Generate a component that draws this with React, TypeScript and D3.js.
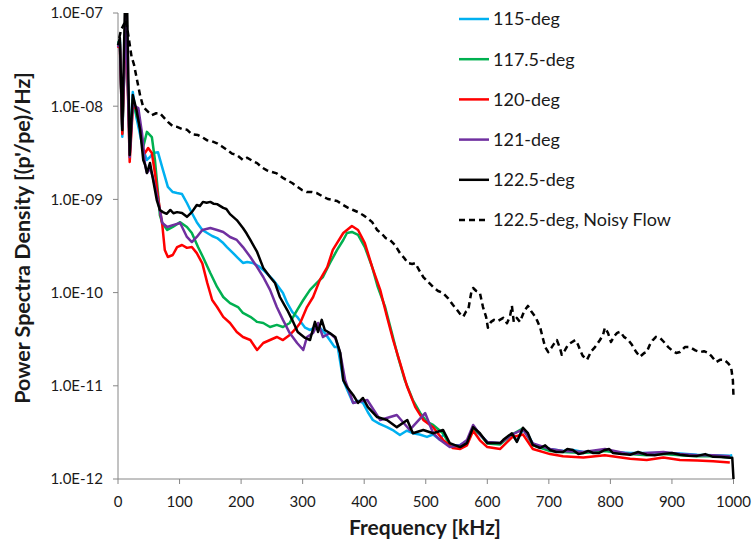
import React from "react";
import * as d3 from "d3";

type Pt = [number, number];

const xTickValues = [0, 100, 200, 300, 400, 500, 600, 700, 800, 900, 1000];
const yTickValues = [1e-12, 1e-11, 1e-10, 1e-9, 1e-8, 1e-7];
const yTickLabels = ["1.0E-12", "1.0E-11", "1.0E-10", "1.0E-09", "1.0E-08", "1.0E-07"];

const seriesNames = ["115-deg", "117.5-deg", "120-deg", "121-deg", "122.5-deg", "122.5-deg, Noisy Flow"];
const seriesColors = ["#00B0F0", "#00B050", "#FF0000", "#7030A0", "#000000", "#000000"];

const deg115: Pt[] = [
  [0, 4.65e-8], [3, 5.1e-8], [7, 4.7e-9], [13, 9.3e-8], [19, 3.8e-9], [24, 1.42e-8], [30, 7.5e-9], [36, 4.9e-9],
  [41, 3.4e-9], [47, 2.65e-9], [52, 2.85e-9], [57, 3.15e-9], [65, 3.2e-9], [73, 2.07e-9], [81, 1.36e-9], [89, 1.2e-9],
  [96, 1.17e-9], [104, 1.14e-9], [112, 9.15e-10], [120, 7.15e-10], [128, 5.7e-10], [137, 4.7e-10], [145, 4.36e-10],
  [153, 4.05e-10], [161, 3.85e-10], [171, 3.4e-10], [177, 3.08e-10], [187, 2.65e-10], [195, 2.35e-10], [203, 2.08e-10],
  [210, 2.13e-10], [219, 2.08e-10], [228, 1.93e-10], [236, 1.75e-10], [243, 1.58e-10], [252, 1.37e-10], [260, 1.17e-10],
  [268, 9.9e-11], [275, 7.7e-11], [283, 6.2e-11], [291, 5.5e-11], [297, 4.85e-11], [304, 4.2e-11], [312, 3.97e-11],
  [320, 4.27e-11], [328, 4.2e-11], [336, 3.68e-11], [344, 3.1e-11], [352, 2.6e-11], [357, 2.6e-11], [366, 1.15e-11],
  [374, 8.6e-12], [382, 6.55e-12], [390, 6.9e-12], [398, 6.55e-12], [406, 5.2e-12], [414, 4.3e-12], [425, 3.9e-12],
  [437, 3.6e-12], [448, 3.3e-12], [458, 2.96e-12], [469, 3.3e-12], [479, 3.1e-12], [490, 3.0e-12], [502, 2.83e-12],
  [512, 3.0e-12], [523, 2.63e-12], [530, 3.1e-12], [539, 2.3e-12], [556, 2.32e-12], [567, 2.55e-12], [577, 3.4e-12],
  [588, 3.0e-12], [600, 2.5e-12], [610, 2.45e-12], [621, 2.4e-12], [640, 3.0e-12], [648, 2.55e-12], [658, 3.4e-12],
  [666, 3.0e-12], [674, 2.4e-12], [686, 2.2e-12], [702, 2.1e-12], [723, 2.0e-12], [739, 2.05e-12], [756, 1.95e-12],
  [772, 1.95e-12], [791, 2.05e-12], [804, 1.95e-12], [832, 1.9e-12], [859, 1.9e-12], [886, 1.9e-12], [913, 1.88e-12],
  [941, 1.82e-12], [967, 1.8e-12], [994, 1.78e-12], [998, 1.8e-12],
];

const deg117: Pt[] = [
  [0, 4.77e-8], [3, 5.1e-8], [7, 5.15e-9], [13, 9.5e-8], [19, 3.39e-9], [24, 1.16e-8], [30, 8.0e-9], [36, 6.3e-9],
  [41, 3.65e-9], [47, 5.3e-9], [55, 4.67e-9], [60, 2.65e-9], [65, 1.17e-9], [68, 6.8e-10], [72, 5.58e-10], [80, 4.7e-10],
  [89, 5.06e-10], [101, 5.7e-10], [112, 5.06e-10], [120, 4.36e-10], [130, 3.08e-10], [138, 2.41e-10], [150, 1.62e-10],
  [161, 1.15e-10], [171, 8.97e-11], [182, 7.7e-11], [195, 7.0e-11], [203, 6.05e-11], [215, 5.5e-11], [226, 4.85e-11],
  [236, 4.72e-11], [247, 4.27e-11], [258, 4.5e-11], [268, 4.27e-11], [279, 4.72e-11], [291, 6.5e-11], [301, 8.33e-11],
  [312, 1.07e-10], [323, 1.27e-10], [333, 1.47e-10], [344, 2.06e-10], [356, 2.87e-10], [366, 3.67e-10], [372, 4.36e-10],
  [380, 4.47e-10], [390, 4.15e-10], [401, 3.08e-10], [413, 1.88e-10], [422, 1.15e-10], [434, 7.0e-11], [445, 3.68e-11],
  [455, 2.04e-11], [466, 1.15e-11], [479, 7.04e-12], [491, 5.11e-12], [502, 4.09e-12], [512, 3.8e-12], [528, 3.1e-12],
  [539, 2.32e-12], [556, 2.2e-12], [567, 2.5e-12], [577, 3.5e-12], [588, 3.0e-12], [600, 2.4e-12], [621, 2.35e-12],
  [640, 3.0e-12], [658, 3.5e-12], [674, 2.3e-12], [702, 2.0e-12], [723, 1.95e-12], [756, 1.9e-12], [791, 2.0e-12],
  [832, 1.85e-12], [859, 1.8e-12], [886, 1.85e-12], [913, 1.8e-12], [941, 1.75e-12], [967, 1.75e-12], [994, 1.7e-12],
];

const deg120: Pt[] = [
  [0, 4.2e-8], [3, 4.65e-8], [7, 5.03e-9], [13, 9.3e-8], [19, 2.52e-9], [24, 9.57e-9], [30, 9.57e-9], [36, 5.85e-9],
  [41, 3.39e-9], [44, 3.15e-9], [49, 3.56e-9], [55, 3.15e-9], [60, 1.92e-9], [65, 1.06e-9], [72, 5.3e-10], [76, 2.87e-10],
  [81, 2.41e-10], [89, 2.53e-10], [96, 3.08e-10], [104, 3.24e-10], [112, 3.02e-10], [120, 3.08e-10], [128, 2.65e-10],
  [137, 2.06e-10], [145, 1.27e-10], [153, 8.33e-11], [161, 7.0e-11], [171, 5.5e-11], [182, 4.72e-11], [193, 3.78e-11],
  [203, 3.34e-11], [215, 3.1e-11], [226, 2.42e-11], [236, 2.88e-11], [247, 3.1e-11], [258, 3.34e-11], [268, 3.1e-11],
  [279, 3.51e-11], [291, 4.27e-11], [296, 4.72e-11], [307, 7.0e-11], [317, 8.97e-11], [328, 1.37e-10], [340, 1.88e-10],
  [349, 2.87e-10], [366, 4.36e-10], [380, 5.19e-10], [390, 4.7e-10], [401, 3.4e-10], [413, 1.88e-10], [426, 1.07e-10],
  [437, 5.5e-11], [447, 3.1e-11], [458, 1.78e-11], [470, 9.7e-12], [483, 5.9e-12], [496, 4.3e-12], [512, 3.6e-12],
  [528, 2.63e-12], [544, 2.15e-12], [556, 2.1e-12], [567, 2.3e-12], [577, 3.3e-12], [588, 2.6e-12], [600, 2.2e-12],
  [621, 2.1e-12], [640, 2.8e-12], [658, 3.0e-12], [674, 2.1e-12], [702, 1.85e-12], [723, 1.75e-12], [756, 1.7e-12],
  [791, 1.8e-12], [832, 1.65e-12], [859, 1.6e-12], [886, 1.7e-12], [913, 1.6e-12], [941, 1.58e-12], [967, 1.55e-12],
  [994, 1.5e-12],
];

const deg121: Pt[] = [
  [0, 4.3e-8], [3, 4.9e-8], [7, 5.85e-9], [13, 9.5e-8], [19, 2.85e-9], [24, 1.03e-8], [33, 9.57e-9], [39, 5.15e-9],
  [44, 2.35e-9], [47, 1.92e-9], [52, 2.17e-9], [57, 1.7e-9], [63, 1.12e-9], [68, 7.7e-10], [72, 5.58e-10], [80, 5.06e-10],
  [89, 5.3e-10], [101, 5.58e-10], [112, 3.95e-10], [120, 3.49e-10], [128, 3.95e-10], [137, 4.7e-10], [150, 4.94e-10],
  [161, 4.7e-10], [171, 4.47e-10], [182, 3.95e-10], [193, 3.67e-10], [203, 3.08e-10], [215, 2.41e-10], [226, 1.88e-10],
  [236, 1.47e-10], [247, 1.07e-10], [258, 7.0e-11], [268, 5.1e-11], [279, 3.68e-11], [291, 2.88e-11], [301, 2.42e-11],
  [307, 3.34e-11], [317, 3.68e-11], [325, 4.72e-11], [333, 3.34e-11], [344, 3.68e-11], [353, 3.26e-11], [361, 2.25e-11],
  [369, 1.15e-11], [382, 6.55e-12], [405, 7.04e-12], [426, 4.3e-12], [453, 4.86e-12], [474, 3.36e-12], [499, 5.1e-12],
  [512, 3.1e-12], [523, 2.63e-12], [539, 2.2e-12], [556, 2.3e-12], [567, 2.63e-12], [577, 3.8e-12], [588, 3.0e-12],
  [600, 2.5e-12], [621, 2.43e-12], [640, 3.0e-12], [658, 3.4e-12], [674, 2.4e-12], [702, 2.1e-12], [723, 2.0e-12],
  [756, 1.95e-12], [791, 2.1e-12], [832, 1.85e-12], [859, 1.9e-12], [886, 1.95e-12], [913, 1.85e-12], [941, 1.8e-12],
  [967, 1.8e-12], [994, 1.75e-12],
];

const deg122: Pt[] = [
  [0, 4.5e-8], [3, 5.4e-8], [7, 5.55e-9], [11, 1.0e-7], [15, 1.0e-7], [19, 3.0e-9], [24, 1.32e-8], [30, 9.1e-9],
  [36, 5.55e-9], [41, 2.65e-9], [44, 2.35e-9], [47, 1.92e-9], [52, 2.46e-9], [57, 1.62e-9], [63, 9.85e-10], [68, 7.7e-10],
  [73, 7.3e-10], [79, 7.0e-10], [85, 7.7e-10], [90, 7.1e-10], [96, 7.3e-10], [104, 7.15e-10], [112, 6.5e-10],
  [120, 7.3e-10], [128, 8.7e-10], [133, 8.5e-10], [138, 9.4e-10], [144, 9.2e-10], [150, 9.4e-10], [155, 9.0e-10],
  [161, 8.9e-10], [171, 8.1e-10], [176, 7.9e-10], [182, 6.95e-10], [193, 6.0e-10], [203, 4.94e-10], [209, 4.3e-10],
  [215, 3.67e-10], [226, 2.73e-10], [236, 1.84e-10], [247, 1.47e-10], [255, 1.27e-10], [263, 8.97e-11], [275, 6.5e-11],
  [283, 5.1e-11], [292, 3.78e-11], [304, 3.26e-11], [312, 3.1e-11], [320, 4.85e-11], [325, 3.78e-11], [331, 5.1e-11],
  [336, 3.97e-11], [344, 3.68e-11], [353, 3.34e-11], [361, 2.25e-11], [366, 1.15e-11], [372, 9.7e-12], [382, 7.96e-12],
  [390, 6.55e-12], [398, 7.4e-12], [406, 5.9e-12], [421, 4.62e-12], [437, 4.3e-12], [453, 3.6e-12], [470, 4.3e-12],
  [479, 3.1e-12], [496, 3.36e-12], [512, 3.1e-12], [528, 3.36e-12], [539, 2.43e-12], [556, 2.2e-12], [567, 2.43e-12],
  [577, 3.6e-12], [588, 3.1e-12], [600, 2.43e-12], [609, 2.43e-12], [621, 2.43e-12], [626, 2.63e-12], [640, 3.1e-12],
  [648, 2.5e-12], [658, 3.55e-12], [666, 3.1e-12], [674, 2.32e-12], [686, 2.15e-12], [694, 2.3e-12], [702, 2.05e-12],
  [712, 1.95e-12], [723, 1.95e-12], [730, 2.1e-12], [739, 2.05e-12], [748, 1.85e-12], [756, 1.9e-12], [764, 2.0e-12],
  [772, 1.9e-12], [781, 1.9e-12], [791, 2.05e-12], [798, 2.1e-12], [804, 1.9e-12], [818, 1.85e-12], [832, 1.82e-12],
  [845, 1.95e-12], [859, 1.82e-12], [872, 1.8e-12], [886, 1.86e-12], [900, 1.9e-12], [913, 1.82e-12], [927, 1.78e-12],
  [941, 1.77e-12], [954, 1.85e-12], [967, 1.73e-12], [980, 1.72e-12], [994, 1.69e-12], [998, 1.69e-12], [1000, 1.0e-12],
];

const deg122Noisy: Pt[] = [
  [2, 5.4e-8], [5, 6.6e-8], [13, 8.4e-8], [22, 3.4e-8], [26, 2.8e-8], [31, 1.9e-8], [36, 1.3e-8], [41, 9.8e-9],
  [49, 8.7e-9], [55, 8.0e-9], [62, 8.4e-9], [68, 8.4e-9], [75, 7.5e-9], [81, 6.8e-9], [89, 6.1e-9], [96, 6.0e-9],
  [104, 5.7e-9], [112, 5.6e-9], [120, 5.0e-9], [130, 4.9e-9], [138, 4.6e-9], [145, 4.3e-9], [153, 4.2e-9], [161, 4.0e-9],
  [169, 3.7e-9], [177, 3.4e-9], [185, 3.1e-9], [193, 3.0e-9], [203, 2.65e-9], [210, 2.8e-9], [218, 2.6e-9],
  [226, 2.45e-9], [234, 2.2e-9], [242, 2.05e-9], [250, 1.97e-9], [258, 1.9e-9], [268, 1.7e-9], [275, 1.6e-9],
  [283, 1.5e-9], [291, 1.37e-9], [299, 1.26e-9], [307, 1.2e-9], [315, 1.2e-9], [323, 1.17e-9], [331, 1.09e-9],
  [341, 1.01e-9], [349, 9.85e-10], [356, 9.6e-10], [366, 8.7e-10], [374, 8.1e-10], [382, 7.7e-10], [390, 7.3e-10],
  [398, 6.8e-10], [405, 6.3e-10], [413, 5.7e-10], [421, 4.7e-10], [429, 4.25e-10], [435, 3.85e-10], [442, 3.67e-10],
  [450, 3.24e-10], [458, 2.66e-10], [465, 2.35e-10], [471, 2.07e-10], [478, 2.03e-10], [483, 2.07e-10], [489, 1.75e-10],
  [496, 1.47e-10], [504, 1.3e-10], [512, 1.15e-10], [520, 1.04e-10], [528, 9.9e-11], [536, 8.75e-11], [544, 7.4e-11],
  [551, 6.5e-11], [557, 5.75e-11], [561, 5.5e-11], [565, 6.2e-11], [569, 6.5e-11], [574, 1.01e-10], [577, 1.12e-10],
  [582, 1.04e-10], [588, 9.9e-11], [593, 7.0e-11], [598, 5.5e-11], [601, 4.2e-11], [606, 4.85e-11], [611, 5.1e-11],
  [617, 4.95e-11], [626, 5.35e-11], [632, 4.7e-11], [637, 5.6e-11], [640, 7.2e-11], [643, 4.85e-11], [648, 5.35e-11],
  [653, 4.85e-11], [660, 6.35e-11], [666, 7.2e-11], [671, 6.35e-11], [678, 5.5e-11], [682, 4.85e-11], [686, 4.2e-11],
  [691, 3.1e-11], [694, 2.6e-11], [699, 2.3e-11], [704, 2.55e-11], [708, 2.8e-11], [713, 3.1e-11], [718, 2.55e-11],
  [721, 2.15e-11], [726, 2.4e-11], [731, 2.75e-11], [736, 2.9e-11], [743, 3.1e-11], [747, 2.8e-11], [751, 2.4e-11],
  [755, 2.1e-11], [762, 1.9e-11], [769, 2.35e-11], [775, 2.6e-11], [783, 3.1e-11], [788, 3.5e-11], [791, 4.2e-11],
  [796, 3.7e-11], [801, 2.95e-11], [806, 3.4e-11], [811, 3.7e-11], [816, 3.8e-11], [822, 3.35e-11], [829, 3.1e-11],
  [835, 2.75e-11], [842, 2.3e-11], [848, 2.05e-11], [855, 2.25e-11], [859, 2.3e-11], [864, 2.75e-11], [869, 3.1e-11],
  [874, 3.35e-11], [881, 3.25e-11], [887, 2.95e-11], [894, 2.6e-11], [900, 2.4e-11], [907, 2.25e-11], [913, 2.3e-11],
  [921, 2.6e-11], [929, 2.6e-11], [938, 2.4e-11], [946, 2.3e-11], [952, 2.35e-11], [959, 2.25e-11], [965, 2.05e-11],
  [972, 1.8e-11], [978, 1.9e-11], [985, 1.9e-11], [991, 1.75e-11], [996, 1.6e-11], [999, 1.15e-11], [1000, 7.6e-12],
];

const allSeries: Pt[][] = [deg115, deg117, deg120, deg121, deg122, deg122Noisy];

const FONT = "Lato, 'Open Sans', sans-serif";

export default function App() {
  const left = 118, right = 733.5, top = 13, bottom = 479;
  const x = d3.scaleLinear().domain([0, 1000]).range([left, right]);
  const y = d3.scaleLog().domain([1e-12, 1e-7]).range([bottom, top]);
  const line = d3.line<Pt>().x((d) => x(d[0])).y((d) => y(d[1]));
  const axisColor = "#868686";
  const textColor = "#1a1a1a";

  return (
    <svg width={752} height={544} style={{ position: "absolute", left: 0, top: 0, background: "#fff" }}>
      <defs>
        <clipPath id="plotClip">
          <rect x={left - 3} y={top} width={right - left + 6} height={bottom - top + 2} />
        </clipPath>
      </defs>
      <rect x={0} y={0} width={752} height={544} fill="#fff" />
      <line x1={left} x2={left} y1={top} y2={bottom} stroke={axisColor} strokeWidth={1} />
      <line x1={left} x2={right} y1={bottom} y2={bottom} stroke={axisColor} strokeWidth={1} />
      {yTickValues.map((v, i) => (
        <g key={"yt" + i}>
          <line x1={left - 5} x2={left} y1={y(v)} y2={y(v)} stroke={axisColor} />
          <text x={left - 15} y={y(v)} dy="0.36em" textAnchor="end" fontFamily={FONT} fontSize={15} fill={textColor}>
            {yTickLabels[i]}
          </text>
        </g>
      ))}
      {xTickValues.map((v) => (
        <g key={"xt" + v}>
          <line x1={x(v)} x2={x(v)} y1={bottom} y2={bottom + 5} stroke={axisColor} />
          <text x={x(v)} y={bottom + 28} textAnchor="middle" fontFamily={FONT} fontSize={15} fill={textColor}>
            {v}
          </text>
        </g>
      ))}
      <text x={425} y={535} textAnchor="middle" fontFamily={FONT} fontWeight="bold" fontSize={21} fill={textColor}>
        Frequency [kHz]
      </text>
      <text
        transform="translate(30, 238) rotate(-90)"
        textAnchor="middle"
        fontFamily={FONT}
        fontWeight="bold"
        fontSize={21.5}
        fill={textColor}
      >
        Power Spectra Density [(p'/pe)/Hz]
      </text>
      <g clipPath="url(#plotClip)">
        {allSeries.map((s, i) => (
          <path
            key={"s" + i}
            d={line(s) || ""}
            fill="none"
            stroke={seriesColors[i]}
            strokeWidth={2.5}
            strokeLinejoin="round"
            strokeDasharray={i === 5 ? "6,4" : undefined}
          />
        ))}
      </g>
      {seriesNames.map((name, i) => {
        const ly = 19 + i * 40.2;
        return (
          <g key={"lg" + i}>
            <line
              x1={459}
              x2={489}
              y1={ly}
              y2={ly}
              stroke={seriesColors[i]}
              strokeWidth={2.5}
              strokeDasharray={i === 5 ? "6,4" : undefined}
            />
            <text x={493} y={ly} dy="0.36em" fontFamily={FONT} fontSize={18} fill={textColor}>
              {name}
            </text>
          </g>
        );
      })}
    </svg>
  );
}
